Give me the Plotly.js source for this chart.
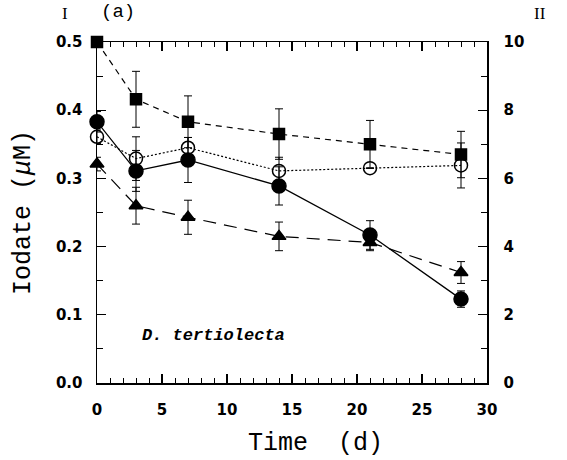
<!DOCTYPE html>
<html><head><meta charset="utf-8">
<script src="https://cdn.plot.ly/plotly-3.0.1.min.js"></script>
<style>body{margin:0;background:#fff}#c{width:567px;height:460px}</style>
</head><body><div id="c"></div>
<script>
const days = [0, 3, 7, 14, 21, 28];
const squareVals = [0.500, 0.416, 0.383, 0.365, 0.350, 0.335];
const squareErr  = [0.000, 0.041, 0.038, 0.037, 0.035, 0.034];
const openCircleVals = [0.361, 0.329, 0.345, 0.311, 0.315, 0.319];
const openCircleErr  = [0.010, 0.032, 0.015, 0.020, 0.000, 0.033];
const filledCircleVals = [0.383, 0.311, 0.327, 0.289, 0.217, 0.123];
const filledCircleErr  = [0.015, 0.030, 0.033, 0.028, 0.021, 0.012];
const triangleVals = [0.321, 0.260, 0.243, 0.215, 0.206, 0.162];
const triangleErr  = [0.010, 0.027, 0.025, 0.021, 0.012, 0.016];
const xTicks = [0, 5, 10, 15, 20, 25, 30];
const yTicks = [0.0, 0.1, 0.2, 0.3, 0.4, 0.5];
const y2Ticks = [0, 2, 4, 6, 8, 10];

function tr(y, err, sym, dash, size, lw) {
  return {
    x: days, y: y, type: 'scatter', mode: 'lines+markers',
    line: {color: '#000', width: lw, dash: dash},
    marker: {symbol: sym, size: size, color: '#000', line: {color: '#000', width: 1.5}},
    error_y: {type: 'data', array: err, visible: true, color: '#000', thickness: 1, width: 4},
    showlegend: false, cliponaxis: false
  };
}
const data = [
  tr(squareVals, squareErr, 'square', '6px,5px', 11, 1.2),
  tr(openCircleVals, openCircleErr, 'circle-open', '2px,2px', 13, 1.2),
  tr(filledCircleVals, filledCircleErr, 'circle', 'solid', 14, 1.3),
  tr(triangleVals, triangleErr, 'triangle-up', '13px,8px', 12, 1.2),
  {x: [0], y: [0], yaxis: 'y2', mode: 'markers', marker: {opacity: 0}, showlegend: false, hoverinfo: 'skip'}
];
const tickFont = {family: 'DejaVu Sans, sans-serif', size: 15, color: '#000', weight: 'bold'};
const monoTitle = {family: 'Liberation Mono, Courier New, monospace', size: 25, color: '#000'};
const layout = {
  width: 567, height: 460,
  margin: {l: 97, r: 80, t: 42, b: 77},
  paper_bgcolor: '#fff', plot_bgcolor: '#fff',
  xaxis: {
    range: [0, 30], tickvals: xTicks, ticktext: xTicks.map(String),
    ticks: 'inside', ticklen: 9, tickwidth: 1.3, tickcolor: '#000', ticklabelstandoff: 12,
    minor: {dtick: 1, ticks: 'inside', ticklen: 5, tickwidth: 1, tickcolor: '#000', showgrid: false},
    showline: true, linecolor: '#000', linewidth: 1.5, mirror: 'ticks',
    showgrid: false, zeroline: false, tickfont: tickFont
  },
  yaxis: {
    range: [0, 0.5], tickvals: yTicks, ticktext: yTicks.map(v => v.toFixed(1)),
    ticks: 'inside', ticklen: 9, tickwidth: 1.3, tickcolor: '#000', ticklabelstandoff: 10,
    minor: {dtick: 0.05, ticks: 'inside', ticklen: 6, tickwidth: 1, tickcolor: '#000', showgrid: false},
    showline: true, linecolor: '#000', linewidth: 1.5,
    showgrid: false, zeroline: false, tickfont: tickFont,
    title: {text: 'Iodate (<i>μ</i>M)', font: monoTitle, standoff: 18}
  },
  yaxis2: {
    overlaying: 'y', side: 'right', range: [0, 10], tickvals: y2Ticks, ticktext: y2Ticks.map(String),
    ticks: 'inside', ticklen: 9, tickwidth: 1.3, tickcolor: '#000', ticklabelstandoff: 12,
    minor: {dtick: 1, ticks: 'inside', ticklen: 6, tickwidth: 1, tickcolor: '#000', showgrid: false},
    showline: true, linecolor: '#000', linewidth: 1.5,
    showgrid: false, zeroline: false, tickfont: tickFont
  },
  annotations: [
    {xref: 'paper', yref: 'paper', x: 0.56, y: -0.176, text: 'Time  (d)', showarrow: false, xanchor: 'center', yanchor: 'middle',
     font: monoTitle},
    {xref: 'paper', yref: 'paper', x: -0.082, y: 1.05, text: 'I', showarrow: false, xanchor: 'center', yanchor: 'bottom',
     font: {family: 'Liberation Serif, Times New Roman, serif', size: 17, color: '#000'}},
    {xref: 'paper', yref: 'paper', x: 0.005, y: 1.05, text: '(a)', showarrow: false, xanchor: 'left', yanchor: 'bottom',
     font: {family: 'Liberation Mono, Courier New, monospace', size: 19, color: '#000'}},
    {xref: 'paper', yref: 'paper', x: 1.135, y: 1.05, text: 'II', showarrow: false, xanchor: 'center', yanchor: 'bottom',
     font: {family: 'Liberation Serif, Times New Roman, serif', size: 17, color: '#000'}},
    {xref: 'x', yref: 'y', x: 3.3, y: 0.07, text: '<b><i>D. tertiolecta</i></b>', showarrow: false, xanchor: 'left', yanchor: 'middle',
     font: {family: 'Liberation Mono, Courier New, monospace', size: 17, color: '#000'}}
  ]
};
Plotly.newPlot('c', data, layout, {staticPlot: true});
</script></body></html>
